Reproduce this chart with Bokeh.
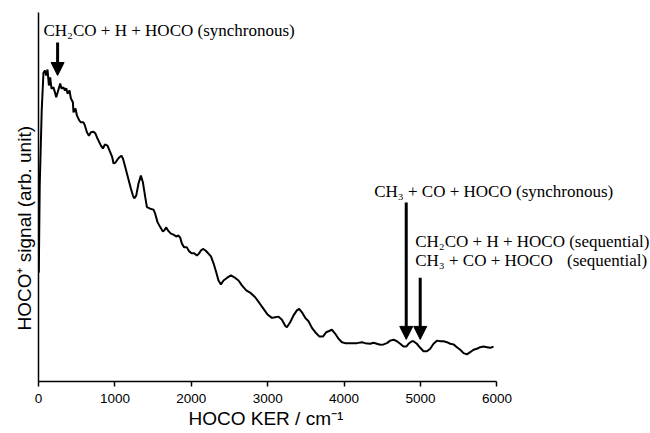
from bokeh.plotting import figure
from bokeh.models import Range1d, FixedTicker, Arrow, NormalHead, Label, Title, ColumnDataSource
from bokeh.embed import file_html
from bokeh.resources import INLINE

# HOCO kinetic energy release (cm^-1) and HOCO+ signal (arbitrary units)
ker = [4, 16, 42, 65, 84, 101, 118, 136, 153, 170, 196, 215, 232, 258, 284, 301,
       327, 346, 363, 380, 406, 424, 450, 458, 484, 503, 533, 555, 589, 607, 634,
       660, 686, 720, 746, 772, 817, 843, 869, 903, 938, 965, 982, 1008, 1034,
       1060, 1086, 1105, 1131, 1165, 1209, 1236, 1253, 1279, 1309, 1340, 1366,
       1397, 1419, 1462, 1505, 1527, 1558, 1593, 1628, 1645, 1672, 1702, 1733,
       1767, 1802, 1832, 1855, 1877, 1907, 1942, 1969, 2003, 2038, 2073, 2099,
       2126, 2152, 2186, 2221, 2257, 2291, 2326, 2356, 2387, 2421, 2466, 2518,
       2575, 2618, 2662, 2719, 2780, 2836, 2893, 2945, 2997, 3055, 3098, 3141,
       3186, 3229, 3251, 3294, 3338, 3382, 3412, 3448, 3491, 3534, 3579, 3622,
       3678, 3723, 3766, 3796, 3840, 3884, 3927, 3971, 4014, 4080, 4168, 4233,
       4276, 4342, 4385, 4429, 4473, 4516, 4560, 4603, 4647, 4691, 4734, 4777,
       4813, 4843, 4887, 4908, 4952, 4996, 5039, 5084, 5127, 5170, 5215, 5258,
       5301, 5346, 5389, 5432, 5476, 5520, 5563, 5607, 5650, 5694, 5738, 5781,
       5825, 5869, 5912, 5956]
signal = [0.349, 0.628, 0.869, 0.990, 0.997, 0.981, 1.000, 0.949, 0.975, 0.939,
          0.943, 0.927, 0.911, 0.933, 0.955, 0.939, 0.943, 0.933, 0.940, 0.923,
          0.933, 0.907, 0.895, 0.863, 0.875, 0.853, 0.837, 0.831, 0.831, 0.821,
          0.799, 0.788, 0.799, 0.801, 0.795, 0.779, 0.756, 0.747, 0.760, 0.756,
          0.735, 0.719, 0.699, 0.702, 0.712, 0.719, 0.724, 0.715, 0.692, 0.660,
          0.619, 0.596, 0.587, 0.596, 0.635, 0.660, 0.639, 0.591, 0.559, 0.554,
          0.551, 0.538, 0.511, 0.495, 0.481, 0.484, 0.494, 0.482, 0.474, 0.471,
          0.465, 0.468, 0.461, 0.442, 0.430, 0.430, 0.418, 0.411, 0.411, 0.404,
          0.410, 0.420, 0.425, 0.420, 0.411, 0.401, 0.379, 0.350, 0.324, 0.311,
          0.324, 0.332, 0.340, 0.332, 0.324, 0.308, 0.292, 0.283, 0.270, 0.251,
          0.233, 0.215, 0.204, 0.206, 0.208, 0.198, 0.179, 0.174, 0.190, 0.212,
          0.228, 0.233, 0.222, 0.204, 0.193, 0.172, 0.158, 0.144, 0.144, 0.158,
          0.161, 0.166, 0.153, 0.137, 0.126, 0.123, 0.123, 0.123, 0.126, 0.123,
          0.121, 0.124, 0.121, 0.118, 0.119, 0.123, 0.131, 0.134, 0.129, 0.121,
          0.112, 0.112, 0.121, 0.129, 0.129, 0.121, 0.108, 0.097, 0.097, 0.105,
          0.121, 0.131, 0.129, 0.129, 0.126, 0.121, 0.119, 0.110, 0.102, 0.091,
          0.087, 0.094, 0.102, 0.105, 0.110, 0.112, 0.110, 0.108, 0.112]

# arrows marking the expected maximum KER of each channel
arrow_ker = [250, 4813, 4996]
arrow_top = [1.087, 0.574, 0.333]
arrow_tip = [0.981, 0.135, 0.135]

x_ticks = [0, 1000, 2000, 3000, 4000, 5000, 6000]

p = figure(width=650, height=433, output_backend="svg", toolbar_location=None,
           x_range=Range1d(0, 8010), y_range=Range1d(0, 1.183),
           min_border_left=38, min_border_right=0, min_border_top=12,
           min_border_bottom=52, background_fill_color="white",
           border_fill_color="white")
p.grid.visible = False
p.outline_line_color = None

p.line(ker, signal, line_color="black", line_width=2)

arrows = ColumnDataSource(dict(x0=arrow_ker, y0=arrow_top, x1=arrow_ker, y1=arrow_tip))
p.add_layout(Arrow(source=arrows, x_start="x0", y_start="y0", x_end="x1", y_end="y1",
                   line_width=3, line_color="black",
                   end=NormalHead(size=13, fill_color="black", line_color="black")))

serif = "Liberation Serif"
labels = [
    (65, 1.126, "CH₂CO + H + HOCO (synchronous)", "left"),
    (4394, 0.610, "CH₃ + CO + HOCO (synchronous)", "left"),
    (4930, 0.448, "CH₂CO + H + HOCO (sequential)", "left"),
    (4930, 0.387, "CH₃ + CO + HOCO", "left"),
    (7967, 0.387, "(sequential)", "right"),
]
for lx, ly, txt, align in labels:
    p.add_layout(Label(x=lx, y=ly, text=txt, text_font=serif, text_font_size="17px",
                       text_color="black", text_align=align, text_baseline="alphabetic"))

# bottom axis
xa = p.xaxis[0]
xa.bounds = (0, 6000)
xa.ticker = FixedTicker(ticks=x_ticks)
xa.minor_tick_line_color = None
xa.major_tick_in = 0
xa.major_tick_out = 5
xa.axis_line_width = 1.5
xa.major_tick_line_width = 1.5
xa.major_label_text_font = "Liberation Sans"
xa.major_label_text_font_size = "13.5px"
xa.major_label_text_color = "black"
xa.major_label_standoff = 7

# left axis: line only
ya = p.yaxis[0]
ya.ticker = FixedTicker(ticks=[])
ya.minor_tick_line_color = None
ya.major_tick_line_color = None
ya.axis_line_width = 1.5

# axis titles placed in the side panels, centred on the drawn axis span
p.add_layout(Title(text="HOCO KER / cm⁻¹", align="left", offset=150, standoff=0,
                   text_font="Liberation Sans", text_font_size="19px",
                   text_font_style="normal", text_color="black"), "below")
p.add_layout(Title(text="HOCO⁺ signal (arb. unit)", align="left", offset=51, standoff=8,
                   text_font="Liberation Sans", text_font_size="19px",
                   text_font_style="normal", text_color="black"), "left")

open("out.html", "w").write(file_html(p, INLINE))
